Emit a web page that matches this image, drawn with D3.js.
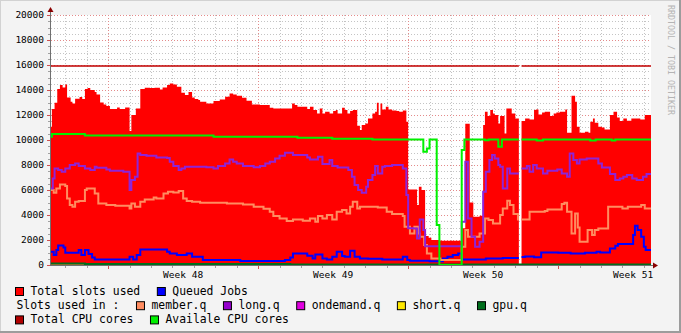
<!DOCTYPE html>
<html>
<head>
<meta charset="utf-8">
<script src="https://cdn.jsdelivr.net/npm/d3@7"></script>
<style>
  html, body { margin: 0; padding: 0; background: #f3f3f3; }
  svg { display: block; }
</style>
</head>
<body>
<script>
/*
 * Step series: [hours since graph start, value].
 * Each value holds until the next entry; null marks unknown data.
 */
var slotsUsed = [
    [0,11070],[1,12480],[4,12990],[7,14080],[10,14400],[13,14210],[16,14450],[18,13410],[22,13070],
    [24,12930],[27,13310],[32,13440],[35,13280],[38,14080],[41,14160],[44,14000],[49,13840],[51,13650],
    [55,13010],[59,12850],[62,12720],[66,12480],[74,12610],[77,12480],[83,12610],[88,10720],[90,12000],
    [95,12530],[100,14080],[105,14190],[111,14160],[116,14190],[122,14050],[125,14210],[130,14400],
    [133,14530],[137,14450],[141,14270],[146,13790],[150,13600],[154,13840],[158,13410],[161,13280],
    [165,13200],[167,13070],[174,12930],[182,13120],[189,13250],[195,13470],[200,13730],[204,13650],
    [208,13550],[214,13390],[219,13150],[225,12850],[234,12800],[245,12590],[249,12530],[270,12930],
    [273,12800],[276,12670],[287,12480],[290,12670],[294,12400],[298,12130],[301,12530],[304,12130],
    [307,12270],[312,12130],[316,12320],[319,12400],[321,12130],[326,12590],[329,12400],[332,12130],
    [335,12320],[338,12400],[343,11150],[346,10800],[348,11200],[352,11330],[355,11730],[360,12130],
    [363,12270],[365,12990],[367,12000],[369,12930],[371,12450],[375,12670],[378,12450],[382,12370],
    [387,12320],[390,12270],[394,12370],[398,11470],[400,6050],[410,4800],[412,6270],[415,6000],
    [419,2320],[423,2190],[426,2000],[436,1950],[460,2950],[464,11300],[469,5000],[473,3870],[480,3950],
    [484,11200],[486,12270],[489,11920],[492,12400],[495,12130],[497,12000],[501,11330],[503,11920],
    [508,10530],[510,12530],[516,12130],[520,11730],[524,null],[527,11520],[531,11730],[536,11650],
    [541,12400],[543,12450],[546,12050],[550,12200],[553,12270],[559,11920],[563,12120],[566,12200],
    [570,12270],[576,12450],[578,10590],[583,13550],[587,13070],[589,11070],[592,10590],[598,10670],
    [602,10590],[604,11470],[607,11730],[609,11390],[613,11070],[617,11000],[620,10850],[626,12000],
    [630,12270],[634,11810],[637,11520],[641,11730],[645,11550],[650,11730],[660,11650],[665,12000]
];

var queuedJobs = [
    [0,1070],[3,800],[6,1200],[8,1570],[14,1410],[16,990],[31,1200],[34,800],[38,1200],[42,880],
    [46,610],[49,450],[88,670],[92,450],[96,800],[100,1250],[130,1070],[133,930],[141,800],[152,930],
    [158,670],[170,400],[212,320],[262,400],[268,610],[271,930],[287,750],[293,530],[296,850],[304,530],
    [309,450],[315,670],[320,1070],[326,720],[329,670],[335,1150],[340,670],[346,530],[355,500],
    [371,450],[394,670],[399,400],[402,350],[424,300],[439,530],[444,670],[450,800],[456,930],[460,450],
    [487,530],[506,560],[524,null],[527,640],[531,680],[541,620],[549,1010],[568,990],[582,930],
    [598,990],[611,1070],[615,1000],[626,1330],[632,1550],[635,1680],[652,2400],[654,3150],[657,2800],
    [661,2270],[664,1470],[666,1200]
];

var memberQ = [
    [0,6000],[3,5790],[6,6130],[10,6450],[16,6320],[18,5330],[21,4800],[24,4670],[27,5070],[31,5130],
    [38,6000],[40,6130],[49,5730],[53,4930],[62,4800],[72,4750],[88,4530],[90,4930],[94,4670],[100,5070],
    [105,5250],[115,5410],[118,5330],[126,5730],[131,5870],[137,5800],[143,5930],[148,5330],[152,5120],
    [158,5070],[167,4990],[197,4930],[215,4850],[227,4670],[238,4500],[245,4270],[249,3920],[256,3730],
    [264,3520],[271,3650],[282,3550],[290,3730],[296,3470],[299,3920],[304,3730],[309,4000],[315,3650],
    [320,4270],[326,4400],[331,4130],[335,4670],[338,5070],[343,4530],[346,4670],[366,4600],[376,4270],
    [382,4080],[394,3920],[396,3070],[402,2530],[407,3070],[411,2530],[413,2270],[418,1600],[421,930],
    [426,530],[436,400],[460,1470],[464,2800],[467,2270],[480,2530],[486,3730],[490,3600],[495,3330],
    [503,4000],[506,4530],[511,5140],[514,4800],[518,4080],[523,3650],[524,null],[527,3650],[536,4270],
    [553,4330],[556,4450],[572,4880],[575,4990],[578,4270],[583,2530],[587,4130],[590,3000],[592,1870],
    [601,2800],[606,2400],[609,2800],[613,2930],[624,4670],[640,4530],[646,4670],[661,4800],[665,4530]
];

var longQ = [
    [0,6130],[2,6930],[4,7730],[8,7600],[12,7470],[16,7730],[21,8000],[27,8130],[31,7920],[38,7730],
    [44,7600],[49,7860],[51,7790],[62,7650],[66,7550],[81,7470],[88,6000],[90,6800],[94,7070],[97,8930],
    [100,8800],[107,8750],[118,8610],[130,8560],[133,8270],[137,7920],[143,7600],[146,7730],[150,7870],
    [174,7830],[182,7730],[187,7920],[195,8130],[200,8450],[204,8270],[208,8130],[215,7920],[227,7830],
    [234,7920],[240,8130],[245,8270],[251,8530],[256,8750],[262,8990],[271,8800],[287,8610],[290,8450],
    [299,8670],[304,8080],[312,8400],[315,7920],[321,7810],[333,7600],[337,7070],[340,6400],[344,6000],
    [348,5790],[353,6270],[355,6800],[360,7200],[363,7920],[366,7330],[371,7870],[374,7920],[382,8000],
    [394,7730],[398,5600],[400,2950],[406,2930],[410,2130],[413,3650],[417,2800],[419,1500],[460,3470],
    [464,8270],[467,3730],[471,2270],[475,1470],[480,1870],[484,5870],[487,7470],[491,8400],[494,8800],
    [497,8530],[501,8000],[503,7870],[506,6130],[511,7730],[514,7330],[524,null],[527,7730],[533,7920],
    [536,7470],[540,8000],[544,7730],[551,7330],[556,7550],[567,7650],[572,7330],[578,7070],[581,8930],
    [585,8400],[589,8130],[592,8450],[600,8530],[613,8130],[617,7810],[626,7280],[632,6800],[637,6930],
    [641,7070],[645,7200],[651,6930],[656,6800],[663,7070],[667,7280]
];

var ondemandQ = [[0,0]];
var shortQ = [[0,0]];
var gpuQ = [[0,120],[38,90],[268,50]];

var totalCpu = [[0,15920],[524,null],[527,15920]];

var availCpu = [
    [0,10270],[1,10480],[38,10370],[182,10270],[276,10190],[315,10110],[360,10050],[417,9070],[421,9330],
    [424,10050],[432,3200],[435,0],[460,9200],[463,10050],[486,9990],[490,10050],[501,9470],[505,10050],
    [524,null],[527,10050],[544,9970],[551,10050],[604,9970],[610,10050],[628,9970],[632,10050]
];

// legend rows, in drawing order
var legendRows = [
    [{label: 'Total slots used', color: '#ff0000'}, {label: 'Queued Jobs', color: '#0000ff'}],
    [{label: 'Slots used in :'}, {label: 'member.q', color: '#ff8c60'}, {label: 'long.q', color: '#9400cc'},
     {label: 'ondemand.q', color: '#e000e0'}, {label: 'short.q', color: '#ffe800'}, {label: 'gpu.q', color: '#006e1c'}],
    [{label: 'Total CPU cores', color: '#b00000'}, {label: 'Availale CPU cores', color: '#00f000'}]
];

var yMax = 20000,
    yMinorStep = 500,
    yMajorStep = 2000;

var width = 681,
    height = 333,
    plot = {left: 51, right: 651, top: 15, bottom: 265},
    t0 = Date.UTC(2019, 10, 22, 8),
    spanHours = 672,
    mono = 'DejaVu Sans Mono, monospace';

var svg, x, y;

var hoursToDate = function(h) { return new Date(t0 + h * 3600e3); };

/* turn change points into explicit step vertices */
var steps = function(series) {
    var pts = [];
    series.forEach(function(d, i) {
        var end = i + 1 < series.length ? series[i + 1][0] : spanHours;
        pts.push({t: hoursToDate(d[0]), v: d[1]});
        pts.push({t: hoursToDate(end), v: d[1]});
    });
    return pts;
};

var makeScales = function() {
    x = d3.scaleUtc()
        .domain([hoursToDate(0), hoursToDate(spanHours)])
        .range([plot.left, plot.right]);

    y = d3.scaleLinear()
        .domain([0, yMax])
        .range([plot.bottom, plot.top]);
};

var makeGrid = function() {
    var g = svg.append('g').attr('class', 'grid');

    var yVals = d3.range(0, yMax + 1, yMinorStep);
    g.selectAll('.hgrid')
        .data(yVals)
        .enter().append('line')
        .attr('x1', plot.left)
        .attr('x2', plot.right)
        .attr('y1', function(d) { return Math.round(y(d)) + 0.5; })
        .attr('y2', function(d) { return Math.round(y(d)) + 0.5; })
        .attr('stroke', function(d) { return d % yMajorStep === 0 ? '#e48a8a' : '#c4c4c4'; })
        .attr('stroke-dasharray', '1,2');

    var days = d3.utcDay.range(x.domain()[0], x.domain()[1]);
    g.selectAll('.vgrid')
        .data(days)
        .enter().append('line')
        .attr('x1', function(d) { return Math.round(x(d)) + 0.5; })
        .attr('x2', function(d) { return Math.round(x(d)) + 0.5; })
        .attr('y1', plot.top)
        .attr('y2', plot.bottom)
        .attr('stroke', function(d) { return d.getUTCDay() === 1 ? '#e48a8a' : '#c4c4c4'; })
        .attr('stroke-dasharray', '1,2');
};

var drawSeries = function() {
    var area = d3.area()
        .defined(function(d) { return d.v !== null; })
        .x(function(d) { return x(d.t); })
        .y0(y(0))
        .y1(function(d) { return y(d.v); });

    var line = d3.line()
        .defined(function(d) { return d.v !== null; })
        .x(function(d) { return x(d.t); })
        .y(function(d) { return y(d.v); });

    svg.append('path')
        .attr('d', area(steps(slotsUsed)))
        .attr('fill', '#ff0000');

    var lines = [
        {data: queuedJobs, color: '#0000ff', w: 2},
        {data: memberQ, color: '#ff8c60', w: 2},
        {data: longQ, color: '#8e24d8', w: 2},
        {data: ondemandQ, color: '#e000e0', w: 1, clip: true},
        {data: shortQ, color: '#ffe800', w: 1, clip: true},
        {data: gpuQ, color: '#006e1c', w: 2},
        {data: totalCpu, color: '#c00000', w: 1.5},
        {data: availCpu, color: '#00f000', w: 2}
    ];

    lines.forEach(function(s) {
        svg.append('path')
            .attr('d', line(steps(s.data)))
            .attr('fill', 'none')
            .attr('stroke', s.color)
            .attr('stroke-width', s.w)
            .attr('stroke-linejoin', 'miter')
            .attr('stroke-linecap', 'butt');
    });
};

var makeAxes = function() {
    var g = svg.append('g').attr('class', 'axes');

    // ticks just outside the plot edges
    g.selectAll('.ytick')
        .data(d3.range(0, yMax + 1, yMinorStep))
        .enter().append('line')
        .attr('x1', function(d) { return d % yMajorStep === 0 ? plot.left - 4 : plot.left - 3; })
        .attr('x2', plot.left)
        .attr('y1', function(d) { return Math.round(y(d)) + 0.5; })
        .attr('y2', function(d) { return Math.round(y(d)) + 0.5; })
        .attr('stroke', function(d) { return d % yMajorStep === 0 ? '#d05050' : '#a0a0a0'; });

    g.selectAll('.xtick')
        .data(d3.utcDay.range(x.domain()[0], x.domain()[1]))
        .enter().append('line')
        .attr('x1', function(d) { return Math.round(x(d)) + 0.5; })
        .attr('x2', function(d) { return Math.round(x(d)) + 0.5; })
        .attr('y1', plot.bottom)
        .attr('y2', function(d) { return d.getUTCDay() === 1 ? plot.bottom + 4 : plot.bottom + 3; })
        .attr('stroke', function(d) { return d.getUTCDay() === 1 ? '#d05050' : '#a0a0a0'; });

    g.append('line')
        .attr('x1', plot.left - 0.5).attr('x2', plot.left - 0.5)
        .attr('y1', plot.bottom + 1).attr('y2', plot.top - 5)
        .attr('stroke', '#707070');

    g.append('line')
        .attr('x1', plot.left - 1).attr('x2', plot.right + 4)
        .attr('y1', plot.bottom + 0.5).attr('y2', plot.bottom + 0.5)
        .attr('stroke', '#707070');

    // arrows
    g.append('path')
        .attr('d', 'M' + (plot.left - 3.5) + ',' + (plot.top - 3) + 'L' + (plot.left + 2.5) + ',' + (plot.top - 3) +
                   'L' + (plot.left - 0.5) + ',' + (plot.top - 8) + 'Z')
        .attr('fill', '#8b0000');
    g.append('path')
        .attr('d', 'M' + (plot.right + 2) + ',' + (plot.bottom - 2.5) + 'L' + (plot.right + 2) + ',' + (plot.bottom + 3.5) +
                   'L' + (plot.right + 7) + ',' + (plot.bottom + 0.5) + 'Z')
        .attr('fill', '#8b0000');

    // y labels
    g.selectAll('.ylab')
        .data(d3.range(0, yMax + 1, yMajorStep))
        .enter().append('text')
        .attr('x', plot.left - 7)
        .attr('y', function(d) { return y(d); })
        .attr('dy', '0.35em')
        .attr('text-anchor', 'end')
        .style('font', '9.5px ' + mono)
        .style('fill', '#000')
        .text(function(d) { return d; });

    // week labels centred in each week
    var weekFmt = d3.utcFormat('%V');
    var mondays = d3.utcMonday.range(d3.utcMonday.offset(x.domain()[0], -1), x.domain()[1]);
    g.selectAll('.xlab')
        .data(mondays.filter(function(m) {
            var mid = d3.utcHour.offset(m, 84);
            return mid > x.domain()[0] && mid < x.domain()[1];
        }))
        .enter().append('text')
        .attr('x', function(d) { return x(d3.utcHour.offset(d, 84)); })
        .attr('y', plot.bottom + 12.5)
        .attr('text-anchor', 'middle')
        .style('font', '9.5px ' + mono)
        .style('fill', '#000')
        .text(function(d) { return 'Week ' + weekFmt(d); });
};

var drawLegend = function() {
    var baseY = 295, rowStep = 14.2, gap = 16.6;

    legendRows.forEach(function(row, r) {
        var cx = 15, by = baseY + r * rowStep;
        row.forEach(function(item) {
            var tx;
            if (item.color) {
                svg.append('rect')
                    .attr('x', cx + 0.5).attr('y', by - 7.5)
                    .attr('width', 8).attr('height', 8)
                    .attr('fill', item.color)
                    .attr('stroke', '#000')
                    .attr('stroke-width', 1);
                tx = cx + 15.5;
            } else {
                tx = cx + 1.5;
            }
            var t = svg.append('text')
                .attr('x', tx).attr('y', by)
                .style('font', '11.4px ' + mono)
                .style('fill', '#000')
                .text(item.label);
            cx = tx + t.node().getComputedTextLength() + gap;
        });
    });
};

var draw = function() {
    svg = d3.select('body').append('svg')
        .attr('width', width)
        .attr('height', height);

    svg.append('rect')
        .attr('width', width).attr('height', height)
        .attr('fill', '#f3f3f3');

    makeScales();

    svg.append('rect')
        .attr('x', plot.left).attr('y', plot.top)
        .attr('width', plot.right - plot.left)
        .attr('height', plot.bottom - plot.top)
        .attr('fill', '#ffffff');

    makeGrid();
    drawSeries();
    makeAxes();
    drawLegend();

    svg.append('text')
        .attr('transform', 'translate(668,5) rotate(90)')
        .style('font', '8.3px ' + mono)
        .style('fill', '#b4b4b4')
        .text('RRDTOOL / TOBI OETIKER');

    // 3d-ish frame
    svg.append('path').attr('d', 'M0,333V0H681').attr('fill', 'none')
        .attr('stroke', '#d2d2d2').attr('stroke-width', 2);
    svg.append('path').attr('d', 'M0,332H680V0').attr('fill', 'none')
        .attr('stroke', '#9c9c9c').attr('stroke-width', 2);
};

draw();
</script>
</body>
</html>
